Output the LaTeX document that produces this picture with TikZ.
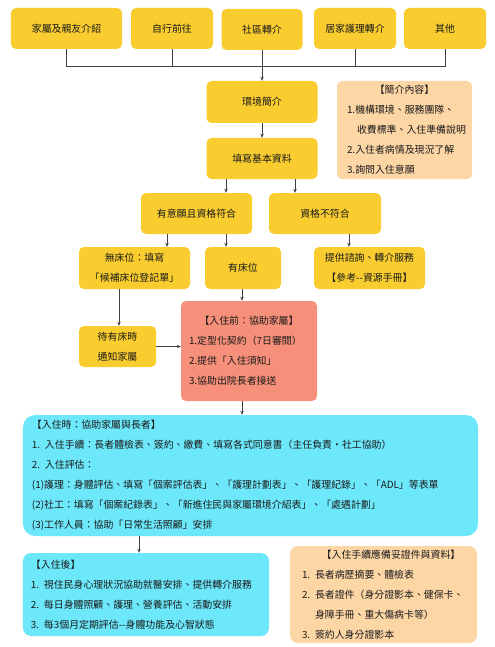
\documentclass[tikz,border=0pt]{standalone}
\usepackage{fontspec}
\setmainfont{Noto Sans CJK TC}
\usetikzlibrary{arrows.meta}

\definecolor{boxyellow}{HTML}{F9CC2F}
\definecolor{boxpeach}{HTML}{FDD6A6}
\definecolor{boxsalmon}{HTML}{F7907A}
\definecolor{boxcyan}{HTML}{6DE8FB}
\definecolor{inkgray}{HTML}{1A1A1A}

\tikzset{
  box/.style={rectangle, rounded corners=5bp, inner sep=0pt, align=center, text=inkgray},
  ybox/.style={box, fill=boxyellow},
  listbox/.style={box, align=left},
  link/.style={draw=black!75, line width=0.6bp},
  arr/.style={link, -{Stealth[length=4bp,width=3.4bp]}},
}
\newcommand{\itemno}[1]{\makebox[13bp][l]{#1}}

\begin{document}
\begin{tikzpicture}[x=1bp, y=-1bp, font=\fontsize{9.9bp}{20bp}\selectfont]
    \useasboundingbox (0,0) rectangle (495,647);

    % Sources
    \node[ybox, minimum width=111bp, minimum height=41bp] (family) at (66.5,28.5) {家屬及親友介紹};
    \node[ybox, minimum width=82bp, minimum height=41bp] (self) at (172,28.5) {自行前往};
    \node[ybox, minimum width=81bp, minimum height=41bp] (community) at (262,29.5) {社區轉介};
    \node[ybox, minimum width=82bp, minimum height=41bp] (homecare) at (355,28.5) {居家護理轉介};
    \node[ybox, minimum width=82bp, minimum height=41bp] (other) at (445,28.5) {其他};
    \coordinate (bus) at (0,66);

    % Intake
    \node[ybox, minimum width=111bp, minimum height=42bp] (intro) at (262,102) {環境簡介};
    \node[ybox, minimum width=111bp, minimum height=41bp] (basic) at (262,158.5) {填寫基本資料};
    \node[listbox, fill=boxpeach, minimum width=135bp, minimum height=98bp,
          text width=115bp, inner xsep=10bp] (brief) at (404.5,130)
          {\makebox[\linewidth]{【簡介內容】}\\
           1.機構環境、服務團隊、\\
           \hspace*{10bp}收費標準、入住準備說明\\
           2.入住者病情及現況了解\\
           3.詢問入住意願};

    % Eligibility
    \node[ybox, minimum width=111bp, minimum height=41bp] (qualified) at (196.5,213.5) {有意願且資格符合};
    \node[ybox, minimum width=112bp, minimum height=41bp] (unqualified) at (325,213.5) {資格不符合};
    \node[ybox, minimum width=111bp, minimum height=42bp] (nobed) at (134.5,268) {無床位：填寫\\「候補床位登記單」};
    \node[ybox, minimum width=76bp, minimum height=42bp] (bed) at (243,268) {有床位};
    \node[ybox, minimum width=111bp, minimum height=42bp] (advice) at (369.5,268) {提供諮詢、轉介服務\\【參考{-}{-}資源手冊】};
    \node[ybox, minimum width=77bp, minimum height=41bp] (wait) at (117.5,346.5) {待有床時\\通知家屬};

    % Before admission
    \node[listbox, fill=boxsalmon, minimum width=136bp, minimum height=100bp,
          text width=120bp, inner xsep=8bp] (pre) at (249,351)
          {\makebox[\linewidth]{【入住前：協助家屬】}\\
           1.定型化契約（7日審閱）\\
           2.提供「入住須知」\\
           3.協助出院長者接送};

    % Admission
    \node[listbox, fill=boxcyan, rounded corners=12bp, minimum width=455bp, minimum height=121bp,
          text width=437bp, inner xsep=9bp] (admit) at (250.5,475.5)
          {【入住時：協助家屬與長者】\\
           \itemno{1.}入住手續：長者體檢表、簽約、繳費、填寫各式同意書（主任負責‧社工協助）\\
           \itemno{2.}入住評估：\\
           (1)護理：身體評估、填寫「個案評估表」、「護理計劃表」、「護理紀錄」、「ADL」等表單\\
           (2)社工：填寫「個案紀錄表」、「新進住民與家屬環境介紹表」、「處遇計劃」\\
           (3)工作人員：協助「日常生活照顧」安排};

    % After admission
    \node[listbox, fill=boxcyan, rounded corners=8bp, minimum width=246bp, minimum height=83bp,
          text width=230bp, inner xsep=8bp] (post) at (146,594.5)
          {【入住後】\\
           \itemno{1.}視住民身心理狀況協助就醫安排、提供轉介服務\\
           \itemno{2.}每日身體照顧、護理、營養評估、活動安排\\
           \itemno{3.}每3個月定期評估{-}{-}身體功能及心智狀態};
    \node[listbox, fill=boxpeach, rounded corners=8bp, minimum width=187bp, minimum height=97bp,
          text width=163bp, inner xsep=12bp] (docs) at (383.5,594.5)
          {\makebox[\linewidth]{\hspace{15bp}【入住手續應備妥證件與資料】}\\
           \itemno{1.}長者病歷摘要、體檢表\\
           \itemno{2.}長者證件（身分證影本、健保卡、\\
           \hspace*{13bp}身障手冊、重大傷病卡等）\\
           \itemno{3.}簽約人身分證影本};

    % Connectors
    \draw[link] (family.south) |- (bus -| other.south) -- (other.south);
    \draw[link] (self.south) -- (self.south |- bus);
    \draw[link] (homecare.south) -- (homecare.south |- bus);
    \draw[arr] (community.south) -- (intro.north);
    \draw[arr] (intro.south) -- (basic.north);
    \draw[arr] ([xshift=-36bp]basic.south) -- ([xshift=-36bp]basic.south |- qualified.north);
    \draw[arr] ([xshift=33bp]basic.south) -- ([xshift=33bp]basic.south |- unqualified.north);
    \draw[arr] ([xshift=-29.5bp]qualified.south) -- ([xshift=-29.5bp]qualified.south |- nobed.north);
    \draw[arr] ([xshift=29.5bp]qualified.south) -- ([xshift=29.5bp]qualified.south |- bed.north);
    \draw[arr] ([xshift=24bp]unqualified.south) -- ([xshift=24bp]unqualified.south |- advice.north);
    \draw[arr] ([xshift=-15.5bp]nobed.south) -- ([xshift=-15.5bp]nobed.south |- wait.north);
    \draw[arr] (wait.east) -- (wait.east -| pre.west);
    \draw[arr] ([xshift=-1bp]bed.south) -- ([xshift=-1bp]bed.south |- pre.north);
    \draw[arr] ([xshift=-7bp]pre.south) -- ([xshift=-7bp]pre.south |- admit.north);
    \draw[arr] ([xshift=-7bp]post.north |- admit.south) -- ([xshift=-7bp]post.north);
\end{tikzpicture}
\end{document}
